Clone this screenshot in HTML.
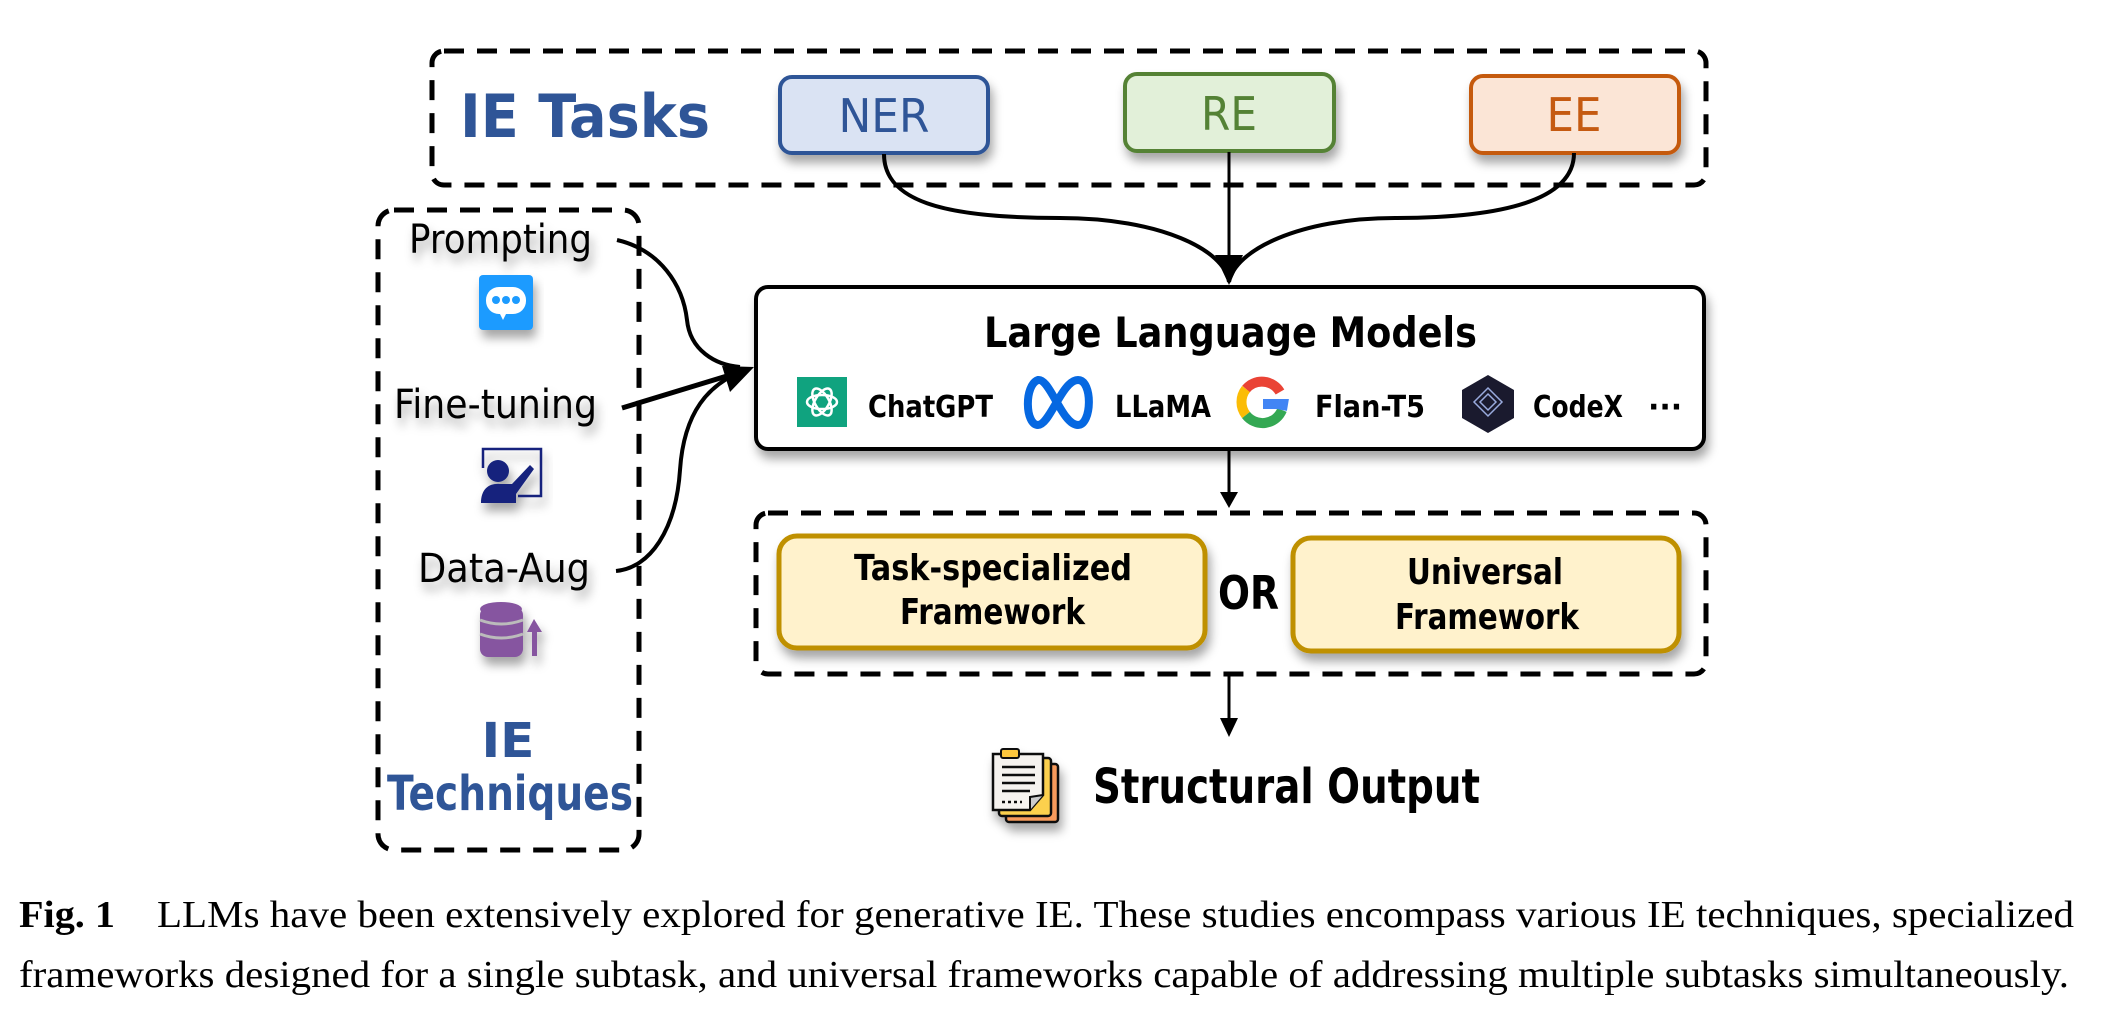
<!DOCTYPE html>
<html><head><meta charset="utf-8"><style>
html,body{margin:0;padding:0;background:#fff;}
svg{display:block;}
.c{font-family:"Comic Sans MS","DejaVu Sans","Liberation Sans",sans-serif;}
.s{font-family:"Liberation Serif",serif;}
</style></head><body>
<svg width="2122" height="1014" viewBox="0 0 2122 1014" xmlns="http://www.w3.org/2000/svg">
<defs>
<filter id="sh" x="-20%" y="-20%" width="140%" height="160%"><feDropShadow dx="3" dy="8" stdDeviation="5" flood-color="#000" flood-opacity="0.35"/></filter>
</defs>

<rect x="432" y="51" width="1274" height="134" rx="12" fill="none" stroke="#000" stroke-width="5" stroke-dasharray="20,13"/>
<text class="c" x="460" y="137" font-size="60" font-weight="bold" fill="#2f5597" textLength="250" lengthAdjust="spacingAndGlyphs">IE Tasks</text>

<rect x="780" y="77" width="208" height="76" rx="12" fill="#dae3f3" stroke="#2f5597" stroke-width="4" filter="url(#sh)"/>
<text class="c" x="884" y="132" font-size="46" text-anchor="middle" fill="#2f5597" textLength="91" lengthAdjust="spacingAndGlyphs">NER</text>
<rect x="1125" y="74" width="209" height="77" rx="12" fill="#e2f0d9" stroke="#548235" stroke-width="4" filter="url(#sh)"/>
<text class="c" x="1229" y="130" font-size="46" text-anchor="middle" fill="#548235" textLength="56" lengthAdjust="spacingAndGlyphs">RE</text>
<rect x="1471" y="76" width="208" height="77" rx="12" fill="#fbe5d6" stroke="#c55a11" stroke-width="4" filter="url(#sh)"/>
<text class="c" x="1574" y="131" font-size="46" text-anchor="middle" fill="#c55a11" textLength="55" lengthAdjust="spacingAndGlyphs">EE</text>

<path d="M884,154 C884,200 940,218 1060,218 C1160,218 1225,250 1229,282" fill="none" stroke="#000" stroke-width="4"/>
<path d="M1574,153 C1574,190 1530,218 1395,218 C1300,218 1235,250 1229,282" fill="none" stroke="#000" stroke-width="4"/>
<line x1="1229" y1="152" x2="1229" y2="258" stroke="#000" stroke-width="3"/>
<path d="M1215,255 L1243,255 L1229,285 Z" fill="#000"/>

<rect x="378" y="210" width="261" height="640" rx="16" fill="none" stroke="#000" stroke-width="5" stroke-dasharray="20,13"/>
<g filter="url(#sh)">
<text class="c" x="409" y="253" font-size="40" textLength="183" lengthAdjust="spacingAndGlyphs">Prompting</text>
<text class="c" x="394" y="418" font-size="40" textLength="203" lengthAdjust="spacingAndGlyphs">Fine-tuning</text>
<text class="c" x="418" y="582" font-size="40" textLength="172" lengthAdjust="spacingAndGlyphs">Data-Aug</text>
</g>
<g filter="url(#sh)">
<rect x="479" y="275" width="54" height="55" rx="4" fill="#1e9bff"/>
<rect x="486" y="287" width="40" height="27" rx="13" fill="#fff"/>
<path d="M499,312 L503,320 L507,312 Z" fill="#fff"/>
<circle cx="496" cy="300" r="4" fill="#1e9bff"/><circle cx="506" cy="300" r="4" fill="#1e9bff"/><circle cx="516" cy="300" r="4" fill="#1e9bff"/>
</g>
<g filter="url(#sh)">
<path d="M483,468 L483,449 L541,449 L541,496 L518,496" fill="none" stroke="#14247d" stroke-width="2.5"/>
<circle cx="498" cy="471" r="11" fill="#14247d"/>
<path d="M481,503 C481,488 490,483 500,484 L512,484 L530,465 L534,469 L516,494 L516,503 Z" fill="#14247d"/>
</g>
<g filter="url(#sh)">
<rect x="480" y="607" width="43" height="50" rx="8" fill="#8655a0"/>
<ellipse cx="501" cy="609" rx="21" ry="7" fill="#8655a0"/>
<path d="M480,620 Q501,628 523,620" stroke="#bbb" stroke-width="3" fill="none"/>
<path d="M480,634 Q501,642 523,634" stroke="#bbb" stroke-width="3" fill="none"/>
<rect x="532" y="630" width="5" height="26" fill="#8655a0"/>
<path d="M527,632 L534,619 L542,632 Z" fill="#8655a0"/>
</g>
<text class="c" x="508" y="757" font-size="48" font-weight="bold" text-anchor="middle" fill="#2f5597" textLength="53" lengthAdjust="spacingAndGlyphs">IE</text>
<text class="c" x="387" y="810" font-size="48" font-weight="bold" fill="#2f5597" textLength="246" lengthAdjust="spacingAndGlyphs">Techniques</text>

<path d="M617,240 C660,250 683,285 687,320 C690,350 715,365 740,367" fill="none" stroke="#000" stroke-width="4"/>
<path d="M622,408 L740,372" fill="none" stroke="#000" stroke-width="5"/>
<path d="M616,571 C650,568 676,530 680,470 C684,410 710,385 740,372" fill="none" stroke="#000" stroke-width="4"/>
<path d="M754,367 L722,366 L730,392 Z" fill="#000"/>

<rect x="756" y="287" width="948" height="162" rx="12" fill="#fff" stroke="#000" stroke-width="4" filter="url(#sh)"/>
<text class="c" x="984" y="347" font-size="42" font-weight="bold" textLength="493" lengthAdjust="spacingAndGlyphs">Large Language Models</text>
<rect x="797" y="377" width="50" height="50" fill="#10a37f"/>
<g fill="none" stroke="#fff" stroke-width="2.5">
<ellipse cx="822" cy="402" rx="15" ry="7"/><ellipse cx="822" cy="402" rx="15" ry="7" transform="rotate(60 822 402)"/><ellipse cx="822" cy="402" rx="15" ry="7" transform="rotate(-60 822 402)"/>
</g>
<text class="c" x="868" y="417" font-size="30" font-weight="bold" textLength="125" lengthAdjust="spacingAndGlyphs">ChatGPT</text>
<path d="M1038,425 C1025,425 1024,385 1038,380 C1050,378 1062,425 1078,425 C1092,425 1093,380 1078,380 C1062,380 1050,425 1038,425 Z" fill="none" stroke="#0668e1" stroke-width="8"/>
<text class="c" x="1115" y="417" font-size="30" font-weight="bold" textLength="96" lengthAdjust="spacingAndGlyphs">LLaMA</text>
<g fill="none" stroke-width="10">
<path d="M1280,392 A21,21 0 0 0 1246,389" stroke="#ea4335"/>
<path d="M1246,389 A21,21 0 0 0 1246,415" stroke="#fbbc05"/>
<path d="M1246,415 A21,21 0 0 0 1282,410" stroke="#34a853"/>
<path d="M1282,410 L1283,404 L1263,404" stroke="#4285f4"/>
</g>
<text class="c" x="1315" y="417" font-size="30" font-weight="bold" textLength="110" lengthAdjust="spacingAndGlyphs">Flan-T5</text>
<path d="M1488,375 L1514,390 L1514,418 L1488,433 L1462,418 L1462,390 Z" fill="#1a1a2e"/>
<path d="M1488,388 L1502,402 L1488,416 L1474,402 Z M1488,394 L1496,402 L1488,410 L1480,402 Z" fill="none" stroke="#9ad" stroke-width="1.5"/>
<text class="c" x="1533" y="417" font-size="30" font-weight="bold" textLength="90" lengthAdjust="spacingAndGlyphs">CodeX</text>
<text class="c" x="1648" y="417" font-size="30" font-weight="bold">···</text>

<line x1="1229" y1="450" x2="1229" y2="496" stroke="#000" stroke-width="3"/>
<path d="M1220,492 L1238,492 L1229,508 Z" fill="#000"/>

<rect x="756" y="513" width="950" height="161" rx="12" fill="none" stroke="#000" stroke-width="5" stroke-dasharray="20,13"/>
<rect x="779" y="536" width="426" height="112" rx="18" fill="#fff2cc" stroke="#bf9000" stroke-width="5" filter="url(#sh)"/>
<text class="c" x="854" y="580" font-size="36" font-weight="bold" textLength="278" lengthAdjust="spacingAndGlyphs">Task-specialized</text>
<text class="c" x="900" y="624" font-size="36" font-weight="bold" textLength="185" lengthAdjust="spacingAndGlyphs">Framework</text>
<text class="c" x="1218" y="609" font-size="46" font-weight="bold" textLength="61" lengthAdjust="spacingAndGlyphs">OR</text>
<rect x="1293" y="538" width="386" height="113" rx="18" fill="#fff2cc" stroke="#bf9000" stroke-width="5" filter="url(#sh)"/>
<text class="c" x="1407" y="584" font-size="36" font-weight="bold" textLength="156" lengthAdjust="spacingAndGlyphs">Universal</text>
<text class="c" x="1395" y="629" font-size="36" font-weight="bold" textLength="184" lengthAdjust="spacingAndGlyphs">Framework</text>

<line x1="1229" y1="674" x2="1229" y2="722" stroke="#000" stroke-width="3"/>
<path d="M1220,718 L1238,718 L1229,737 Z" fill="#000"/>

<g filter="url(#sh)">
<rect x="1006" y="764" width="52" height="58" rx="3" fill="#f79a5c" stroke="#111" stroke-width="2.5"/>
<rect x="999" y="758" width="52" height="58" rx="3" fill="#fcd04d" stroke="#111" stroke-width="2.5"/>
<path d="M993,754 L1043,754 L1043,795 L1030,810 L993,810 Z" fill="#f6f3ef" stroke="#111" stroke-width="2.5"/>
<path d="M1030,810 L1030,797 L1043,795" fill="#ccc" stroke="#111" stroke-width="2"/>
<rect x="1001" y="749" width="18" height="9" rx="2" fill="#fcc63c" stroke="#111" stroke-width="2"/>
<g stroke="#111" stroke-width="2.5"><line x1="1002" y1="767" x2="1035" y2="767"/><line x1="1002" y1="775" x2="1035" y2="775"/><line x1="1002" y1="783" x2="1035" y2="783"/><line x1="1002" y1="791" x2="1030" y2="791"/><line x1="1002" y1="802" x2="1022" y2="802" stroke-dasharray="3,3"/></g>
</g>
<text class="c" x="1093" y="803" font-size="48" font-weight="bold" textLength="387" lengthAdjust="spacingAndGlyphs">Structural Output</text>

<text class="s" x="19" y="927" font-size="38" font-weight="bold" textLength="96" lengthAdjust="spacingAndGlyphs">Fig. 1</text>
<text class="s" x="157" y="927" font-size="38" textLength="1917" lengthAdjust="spacingAndGlyphs">LLMs have been extensively explored for generative IE. These studies encompass various IE techniques, specialized</text>
<text class="s" x="19" y="987" font-size="38" textLength="2050" lengthAdjust="spacingAndGlyphs">frameworks designed for a single subtask, and universal frameworks capable of addressing multiple subtasks simultaneously.</text>
</svg>
</body></html>
